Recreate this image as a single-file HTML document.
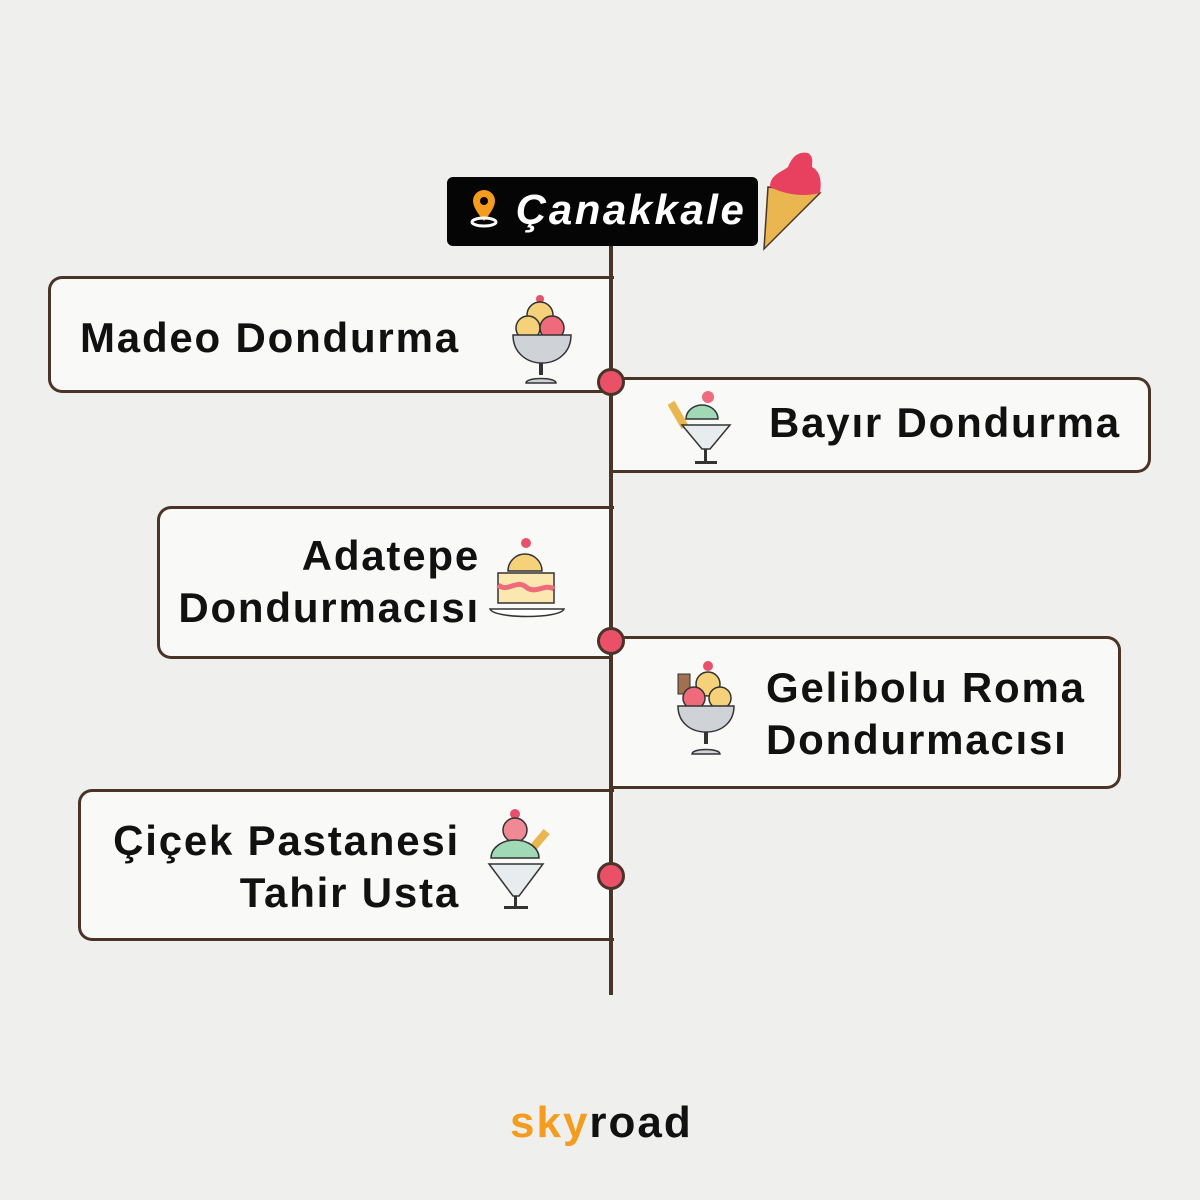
<!DOCTYPE html>
<html><head><meta charset="utf-8"><style>
body{margin:0;width:1200px;height:1200px;background:#efefee;position:relative;overflow:hidden;font-family:"Liberation Sans",sans-serif}
.box{position:absolute;background:#f9f9f8;border:3px solid #4a3428;box-sizing:border-box}
.L{border-right:none;border-radius:14px 0 0 14px}
.R{border-left:none;border-radius:0 14px 14px 0}
.t{position:absolute;font-weight:bold;font-size:42px;color:#111;line-height:52px;letter-spacing:1.8px}
.dot{position:absolute;width:28px;height:28px;border-radius:50%;background:#ea5068;border:3px solid #4a3428;box-sizing:border-box}
</style></head><body>
<div class="box L" style="left:48px;top:276px;width:566px;height:117px"></div>
<div class="box R" style="left:610px;top:377px;width:541px;height:96px"></div>
<div class="box L" style="left:157px;top:506px;width:457px;height:153px"></div>
<div class="box R" style="left:610px;top:636px;width:511px;height:153px"></div>
<div class="box L" style="left:78px;top:789px;width:536px;height:152px"></div>
<div style="position:absolute;left:609px;top:245px;width:4px;height:750px;background:#4a3428"></div>
<div class="dot" style="left:597px;top:368px"></div>
<div class="dot" style="left:597px;top:627px"></div>
<div class="dot" style="left:597px;top:862px"></div>

<div class="t" style="left:80px;top:312px">Madeo Dondurma</div>
<div class="t" style="left:769px;top:397px">Bayır Dondurma</div>
<div class="t" style="left:140px;top:530px;width:340px;text-align:right">Adatepe<br>Dondurmacısı</div>
<div class="t" style="left:766px;top:662px">Gelibolu Roma<br>Dondurmacısı</div>
<div class="t" style="left:60px;top:815px;width:400px;text-align:right">Çiçek Pastanesi<br>Tahir Usta</div>

<div style="position:absolute;left:447px;top:177px;width:311px;height:69px;background:#050505;border-radius:6px"></div>
<svg style="position:absolute;left:466px;top:184px" width="40" height="54"><path d="M18 6a11 11 0 0 1 11 11c0 8-11 20-11 20S7 25 7 17A11 11 0 0 1 18 6z" fill="#f39c1e"/><circle cx="18" cy="17" r="4" fill="#050505"/><ellipse cx="18" cy="38" rx="12" ry="4" fill="none" stroke="#fff" stroke-width="3"/></svg>
<div style="position:absolute;left:516px;top:184px;color:#fff;font-weight:bold;font-style:italic;font-size:42px;line-height:52px;letter-spacing:2.5px">Çanakkale</div>
<svg style="position:absolute;left:760px;top:145px" width="66" height="106"><polygon points="8,42 60,48 4,104" fill="#e9b650" stroke="#4a3428" stroke-width="1.5"/><path d="M10 42c0-12 10-14 18-20c4-10 10-16 20-14c6 4 4 10 4 14c8 4 10 14 8 26c-16 4-34 2-50-6z" fill="#e8415f"/></svg>

<svg style="position:absolute;left:510px;top:285px" width="70" height="102"><circle cx="30" cy="14" r="4" fill="#e9506a"/><circle cx="30" cy="30" r="13" fill="#f5d27a" stroke="#333" stroke-width="1.5"/><circle cx="18" cy="43" r="12" fill="#f5d27a" stroke="#333" stroke-width="1.5"/><circle cx="42" cy="43" r="12" fill="#ef6b7c" stroke="#333" stroke-width="1.5"/><path d="M3 50h58c0 18-14 28-29 28S3 68 3 50z" fill="#cfd3d8" stroke="#333" stroke-width="1.5"/><rect x="29" y="78" width="4" height="12" fill="#333"/><path d="M16 98c0-6 30-6 30 0z" fill="#cfd3d8" stroke="#333" stroke-width="1.5"/></svg>
<svg style="position:absolute;left:668px;top:385px" width="66" height="84"><circle cx="40" cy="12" r="6" fill="#ef6b7c"/><rect x="6" y="16" width="8" height="28" fill="#e9b650" transform="rotate(-30 10 30)"/><path d="M18 34a16 14 0 0 1 32 0z" fill="#9fd9b5" stroke="#333" stroke-width="1.5"/><path d="M14 40h48l-20 24h-8z" fill="#e8ecef" stroke="#333" stroke-width="1.5"/><rect x="36" y="64" width="3" height="12" fill="#333"/><rect x="27" y="76" width="22" height="3" fill="#333"/></svg>
<svg style="position:absolute;left:488px;top:533px" width="78" height="94"><circle cx="38" cy="10" r="5" fill="#e9506a"/><path d="M20 38a17 17 0 0 1 34 0z" fill="#f5d27a" stroke="#333" stroke-width="1.5"/><rect x="10" y="40" width="56" height="30" fill="#fbe7b0" stroke="#333" stroke-width="1.5"/><path d="M10 52c10 8 18-6 28 2s18-4 28 2" stroke="#ef6b7c" stroke-width="5" fill="none"/><path d="M2 76h74c-4 10-70 10-74 0z" fill="#fff" stroke="#333" stroke-width="1.5"/></svg>
<svg style="position:absolute;left:672px;top:658px" width="66" height="100"><circle cx="36" cy="8" r="5" fill="#e9506a"/><rect x="6" y="16" width="12" height="20" fill="#a07050" stroke="#333"/><circle cx="36" cy="26" r="12" fill="#f5d27a" stroke="#333" stroke-width="1.5"/><circle cx="22" cy="40" r="11" fill="#ef6b7c" stroke="#333" stroke-width="1.5"/><circle cx="48" cy="40" r="11" fill="#f5d27a" stroke="#333" stroke-width="1.5"/><path d="M6 48h56c0 16-12 26-28 26S6 64 6 48z" fill="#cfd3d8" stroke="#333" stroke-width="1.5"/><rect x="32" y="74" width="4" height="12" fill="#333"/><path d="M20 96c0-6 28-6 28 0z" fill="#cfd3d8" stroke="#333" stroke-width="1.5"/></svg>
<svg style="position:absolute;left:485px;top:808px" width="80" height="104"><circle cx="30" cy="6" r="5" fill="#e9506a"/><circle cx="30" cy="22" r="12" fill="#ef8a95" stroke="#333" stroke-width="1.5"/><rect x="48" y="20" width="8" height="30" fill="#e9b650" transform="rotate(40 52 35)"/><path d="M6 50a24 18 0 0 1 48 0z" fill="#9fd9b5" stroke="#333" stroke-width="1.5"/><path d="M4 56h54l-24 32h-6z" fill="#e8ecef" stroke="#333" stroke-width="1.5"/><rect x="29" y="88" width="3" height="10" fill="#333"/><rect x="19" y="98" width="24" height="3" fill="#333"/></svg>

<div style="position:absolute;left:510px;top:1095px;font-weight:bold;font-size:44px;line-height:56px;letter-spacing:2px"><span style="color:#f39c1e">sky</span><span style="color:#111">road</span></div>
</body></html>
